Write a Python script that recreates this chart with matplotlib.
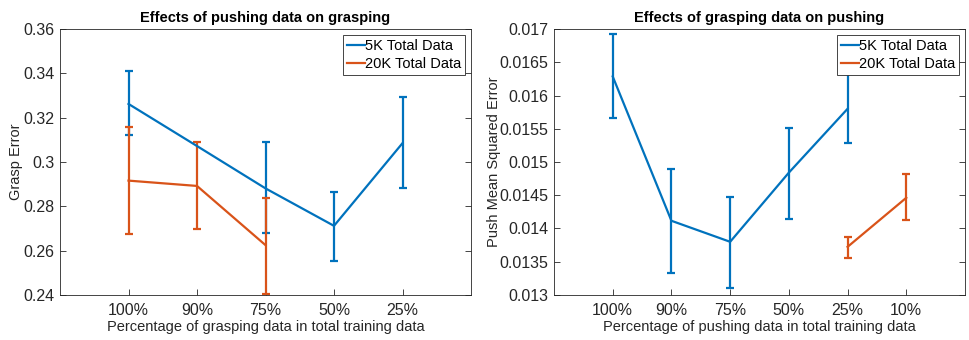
import numpy as np
import matplotlib
matplotlib.use("Agg")
import matplotlib.pyplot as plt

plt.rcParams['font.family'] = ['Liberation Sans', 'DejaVu Sans']

# Left panel data
left_labels = ["100%", "90%", "75%", "50%", "25%"]
left_5k = [0.3262, 0.3072, 0.2881, 0.2712, 0.3085]
left_5k_lo = [0.3121, np.nan, 0.2678, 0.2554, 0.2883]
left_5k_hi = [0.3410, np.nan, 0.3091, 0.2865, 0.3291]
left_20k = [0.2916, 0.2892, 0.2625]
left_20k_lo = [0.2673, 0.2696, 0.2406]
left_20k_hi = [0.3160, 0.3092, 0.2839]

# Right panel data
right_labels = ["100%", "90%", "75%", "50%", "25%", "10%"]
right_5k = [0.016286, 0.014116, 0.013800, 0.014840, 0.015800]
right_5k_lo = [0.015660, 0.013332, 0.013110, 0.014146, 0.015286]
right_5k_hi = [0.016920, 0.014894, 0.014467, 0.015513, 0.016327]
right_20k = [0.013724, 0.014462]
right_20k_lo = [0.013553, 0.014130]
right_20k_hi = [0.013870, 0.014820]

BLUE = "#0072BD"
ORANGE = "#D95319"
GREY = "#262626"

fig = plt.figure(figsize=(9.69, 3.40), dpi=100)
axL = fig.add_axes([60/969, 45/340, 411/969, 266/340])
axR = fig.add_axes([554/969, 45/340, 411/969, 266/340])


def eb(ax, x, y, lo, hi, color, label):
    y = np.array(y, float)
    lo = np.array(lo, float)
    hi = np.array(hi, float)
    yerr = np.vstack([y - lo, hi - y])
    ax.errorbar(x, y, yerr=yerr, color=color, lw=1.6, elinewidth=1.6,
                capsize=3.0, capthick=1.6, label=label, clip_on=True)


def style(ax, labels, xmax):
    ax.set_xlim(0, xmax)
    ax.set_xticks(np.arange(1, len(labels) + 1))
    ax.set_xticklabels(labels)
    ax.tick_params(direction='in', top=True, right=True, length=4,
                   width=0.6, colors=GREY, labelsize=11.5, pad=4)
    ax.tick_params(axis='x', top=False, pad=6)
    for s in ax.spines.values():
        s.set_color(GREY)
        s.set_linewidth(0.6)


xL = np.arange(1, 6)
eb(axL, xL, left_5k, left_5k_lo, left_5k_hi, BLUE, "5K Total Data")
eb(axL, xL[:3], left_20k, left_20k_lo, left_20k_hi, ORANGE, "20K Total Data")
style(axL, left_labels, 6)
axL.set_ylim(0.24, 0.36)
axL.set_yticks(np.arange(0.24, 0.3601, 0.02))
axL.set_yticklabels(["0.24", "0.26", "0.28", "0.3", "0.32", "0.34", "0.36"])
axL.set_title("Effects of pushing data on grasping", fontsize=10.5,
              fontweight='bold', pad=5)
axL.set_xlabel("Percentage of grasping data in total training data",
               fontsize=10.5, color=GREY, labelpad=1)
axL.set_ylabel("Grasp Error", fontsize=10.5, color=GREY)
axL.yaxis.set_label_coords(-0.090, 0.5)

xR = np.arange(1, 7)
eb(axR, xR[:5], right_5k, right_5k_lo, right_5k_hi, BLUE, "5K Total Data")
eb(axR, xR[4:6], right_20k, right_20k_lo, right_20k_hi, ORANGE, "20K Total Data")
style(axR, right_labels, 7)
axR.set_ylim(0.013, 0.017)
axR.set_yticks(np.arange(0.013, 0.01701, 0.0005))
axR.set_yticklabels(["0.013", "0.0135", "0.014", "0.0145", "0.015",
                     "0.0155", "0.016", "0.0165", "0.017"])
axR.set_title("Effects of grasping data on pushing", fontsize=10.5,
              fontweight='bold', pad=5)
axR.set_xlabel("Percentage of pushing data in total training data",
               fontsize=10.5, color=GREY, labelpad=1)
axR.set_ylabel("Push Mean Squared Error", fontsize=10.5, color=GREY)
axR.yaxis.set_label_coords(-0.129, 0.5)

for ax in (axL, axR):
    h, l = ax.get_legend_handles_labels()
    h = [hh[0] for hh in h]
    leg = ax.legend(h, l, loc='upper right', fontsize=10.5, frameon=True,
                    fancybox=False, edgecolor=GREY, handlelength=1.2,
                    handletextpad=0.0, borderpad=0.3, labelspacing=0.25,
                    borderaxespad=0.4, framealpha=1)
    leg.get_frame().set_linewidth(0.6)

fig.savefig("out.png", dpi=100)
